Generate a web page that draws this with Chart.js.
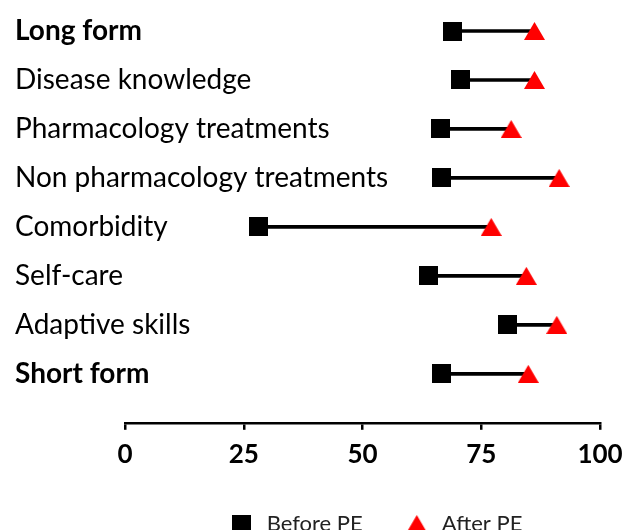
<!DOCTYPE html>
<html>
<head>
<meta charset="utf-8">
<script src="https://cdn.jsdelivr.net/npm/chart.js@4.4.1/dist/chart.umd.min.js"></script>
<style>
  html, body { margin: 0; padding: 0; background: #fff; overflow: hidden; }
  #wrap { width: 636px; height: 530px; }
</style>
</head>
<body>
<div id="wrap"><canvas id="chart"></canvas></div>
<script>
const categories = [
  "Long form",
  "Disease knowledge",
  "Pharmacology treatments",
  "Non pharmacology treatments",
  "Comorbidity",
  "Self-care",
  "Adaptive skills",
  "Short form"
];
const boldRows = ["Long form", "Short form"];
const beforePE = [68.9, 70.6, 66.4, 66.7, 28.0, 63.8, 80.6, 66.6];
const afterPE = [86.2, 86.2, 81.3, 91.4, 77.1, 84.5, 90.9, 84.9];
const xTicks = [0, 25, 50, 75, 100];
const seriesNames = ["Before PE", "After PE"];

const FONT = "Lato, 'Open Sans', sans-serif";

// marker images, so the triangle box sits centred on the row like the square
function squareMarker(size) {
  const c = document.createElement("canvas");
  c.width = size; c.height = size;
  const g = c.getContext("2d");
  g.fillStyle = "#000";
  g.fillRect(0, 0, size, size);
  return c;
}

function triangleMarker(w, h) {
  const c = document.createElement("canvas");
  c.width = w; c.height = h;
  const g = c.getContext("2d");
  g.fillStyle = "#ff0000";
  g.beginPath();
  g.moveTo(w / 2, 0);
  g.lineTo(w, h);
  g.lineTo(0, h);
  g.closePath();
  g.fill();
  return c;
}

const sq = squareMarker(19);
const tri = triangleMarker(21, 18);

// nudge the legend to where it sits in the figure
const legendShift = {
  id: "legendShift",
  afterLayout(chart) {
    const lg = chart.legend;
    if (!lg) return;
    const dx = 375 - (lg.left + lg.right) / 2;
    lg.left += dx; lg.right += dx;
    lg.top -= 6; lg.bottom -= 6;
  }
};

new Chart(document.getElementById("chart"), {
  type: "bar",
  data: {
    labels: [...categories, ""],
    datasets: [
      {
        type: "line",
        label: seriesNames[0],
        data: beforePE,
        showLine: false,
        pointStyle: sq,
        pointRadius: 10,
        clip: false
      },
      {
        type: "line",
        label: seriesNames[1],
        data: afterPE,
        showLine: false,
        pointStyle: tri,
        pointRadius: 10,
        clip: false
      },
      {
        label: "range",
        data: beforePE.map((b, i) => [b, afterPE[i]]),
        backgroundColor: "#000",
        barThickness: 3,
        clip: false
      }
    ]
  },
  options: {
    indexAxis: "y",
    responsive: true,
    maintainAspectRatio: false,
    animation: false,
    // negative bottom padding lets the legend hang low like in the figure
    layout: { padding: { top: 31, left: 15, right: 36, bottom: -21 } },
    plugins: {
      tooltip: { enabled: false },
      legend: {
        position: "bottom",
        fullSize: false,
        labels: {
          usePointStyle: true,
          pointStyleWidth: 28,
          padding: 40,
          color: "#222",
          font: { family: FONT, size: 22 },
          filter: (item) => item.datasetIndex < 2
        }
      }
    },
    scales: {
      x: {
        min: 0,
        max: 100,
        afterBuildTicks: (s) => { s.ticks = xTicks.map((v) => ({ value: v })); },
        grid: {
          drawOnChartArea: false,
          drawTicks: true,
          tickLength: 7,
          color: "#000",
          lineWidth: 2.5
        },
        border: { color: "#000", width: 2.5 },
        ticks: {
          color: "#000",
          padding: 9,
          font: { family: FONT, size: 26, weight: "bold" }
        }
      },
      y: {
        offset: false,
        grid: { display: false },
        border: { display: false },
        afterFit: (s) => { s.width = 110; },
        ticks: {
          // mirrored labels are not clipped to the axis box, so they may run into the plot
          mirror: true,
          padding: -110,
          color: "#000",
          font: (ctx) => ({
            family: FONT,
            size: 28,
            weight: boldRows.includes(categories[ctx.index]) ? "bold" : "normal"
          })
        }
      }
    }
  },
  plugins: [legendShift]
});
</script>
</body>
</html>
